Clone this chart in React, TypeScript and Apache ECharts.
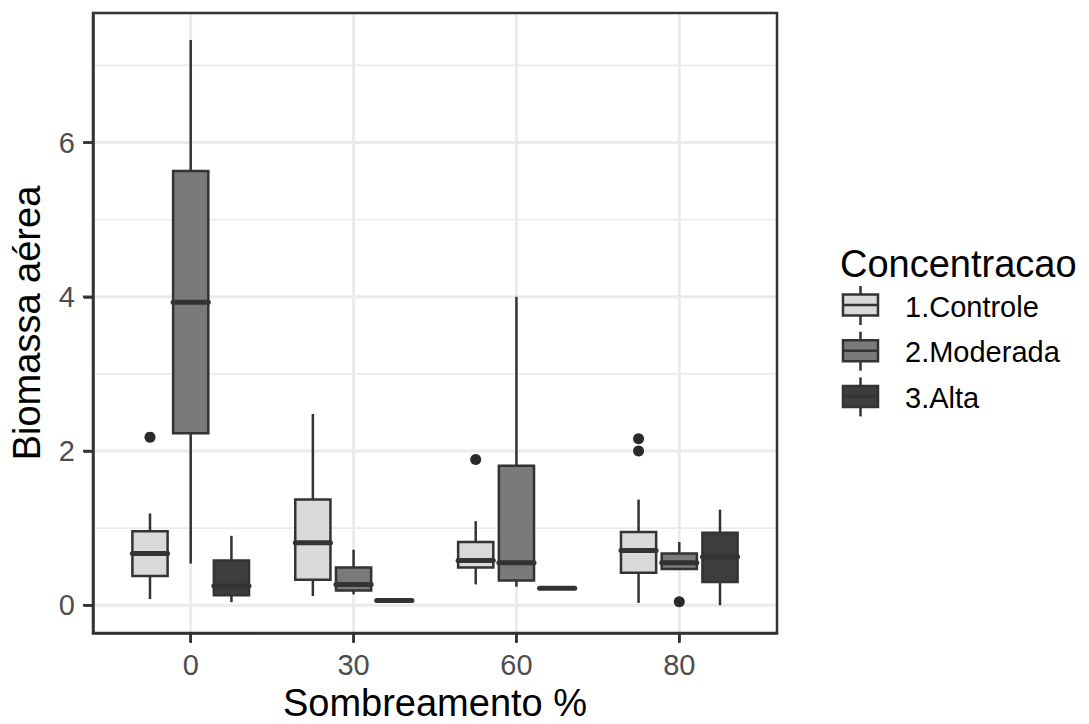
import React, { useEffect, useRef } from "react";
import * as echarts from "echarts";

// ---- data ----
const categories = ["0", "30", "60", "80"];
const groups = ["1.Controle", "2.Moderada", "3.Alta"];
const groupColors = ["#D9D9D9", "#7A7A7A", "#3D3D3D"];

// [min, q1, median, q3, max] per category
const controleStats = [
  [0.08, 0.38, 0.67, 0.96, 1.19],
  [0.12, 0.33, 0.81, 1.37, 2.48],
  [0.27, 0.49, 0.58, 0.82, 1.09],
  [0.03, 0.42, 0.71, 0.95, 1.37],
];
const moderadaStats = [
  [0.54, 2.23, 3.93, 5.63, 7.33],
  [0.14, 0.19, 0.27, 0.49, 0.72],
  [0.24, 0.32, 0.55, 1.81, 4.0],
  [0.46, 0.47, 0.55, 0.67, 0.82],
];
const altaStats = [
  [0.04, 0.13, 0.25, 0.58, 0.9],
  [0.05, 0.055, 0.06, 0.065, 0.07],
  [0.21, 0.215, 0.22, 0.225, 0.23],
  [0.0, 0.3, 0.63, 0.94, 1.24],
];
// [category index, value]
const controleOutliers = [
  [0, 2.18],
  [2, 1.89],
  [3, 2.16],
  [3, 2.0],
];
const moderadaOutliers = [[3, 0.045]];
const altaOutliers: number[][] = [];

const yMajor = [0, 2, 4, 6];
const yMinor = [1, 3, 5, 7];
const X_MIN = -0.6;
const X_MAX = 3.6;
const Y_MIN = -0.36;
const Y_MAX = 7.68;

const FONT = "'Liberation Sans', Arial, sans-serif";

export default function App() {
  const ref = useRef<HTMLDivElement>(null);
  useEffect(() => {
    if (!ref.current) return;
    const chart = echarts.init(ref.current, undefined, { renderer: "svg" });
    const allStats = [controleStats, moderadaStats, altaStats];
    const allOut = [controleOutliers, moderadaOutliers, altaOutliers];
    const dodge = 0.25;
    const halfW = 0.108;

    const boxData: number[][] = [];
    allStats.forEach((stats, gi) => {
      stats.forEach((s, ci) => {
        boxData.push([ci + (gi - 1) * dodge, ...s, gi]);
      });
    });
    const outData: number[][] = [];
    allOut.forEach((arr, gi) => {
      arr.forEach(([ci, v]) => outData.push([ci + (gi - 1) * dodge, v]));
    });

    // gridlines: [xPos, yPos, kind(0 vertical, 1 horizontal), width]
    const gridData: number[][] = [];
    categories.forEach((_, i) => gridData.push([i, 0, 0, 3]));
    yMajor.forEach((v) => gridData.push([0, v, 1, 3]));
    yMinor.forEach((v) => gridData.push([0, v, 1, 1.7]));

    const xTickData = categories.map((_, i) => [i, Y_MIN]);
    const yTickData = yMajor.map((v) => [X_MIN, v]);

    const legendGraphics: any[] = [
      {
        type: "text",
        left: 840,
        top: 245,
        style: {
          text: "Concentracao",
          fontSize: 38,
          fontFamily: FONT,
          fill: "#000",
          verticalAlign: "middle",
        },
        z: 100,
      },
    ];
    groups.forEach((g, i) => {
      const cy = 305 + 45.7 * i;
      legendGraphics.push({
        type: "line",
        shape: { x1: 860.5, y1: cy - 19, x2: 860.5, y2: cy + 20 },
        style: { stroke: "#333333", lineWidth: 2.5 },
        z: 100,
      });
      legendGraphics.push({
        type: "rect",
        shape: { x: 843, y: cy - 10.5, width: 35, height: 21 },
        style: { fill: groupColors[i], stroke: "#333333", lineWidth: 2.5 },
        z: 101,
      });
      legendGraphics.push({
        type: "line",
        shape: { x1: 843, y1: cy, x2: 878, y2: cy },
        style: { stroke: "#333333", lineWidth: 2.5 },
        z: 102,
      });
      legendGraphics.push({
        type: "text",
        x: 905,
        y: cy + 1.5,
        style: {
          text: g,
          fontSize: 29,
          fontFamily: FONT,
          fill: "#000",
          verticalAlign: "middle",
          align: "left",
        },
        z: 100,
      });
    });
    // panel border on top
    legendGraphics.push({
      type: "rect",
      shape: { x: 93, y: 13, width: 684, height: 620 },
      style: { fill: "none", stroke: "#333333", lineWidth: 2.5 },
      z: 200,
      silent: true,
    });

    const axisLineStyle = { show: true, onZero: false, lineStyle: { color: "#333333", width: 2.5 } };

    const option: any = {
      animation: false,
      backgroundColor: "#ffffff",
      grid: {
        left: 93,
        right: 312,
        top: 13,
        bottom: 91,
        containLabel: false,
        outerBoundsMode: "none",
      },
      xAxis: {
        type: "value",
        position: "bottom",
        min: X_MIN,
        max: X_MAX,
        name: "Sombreamento %",
        nameLocation: "middle",
        nameGap: 50,
        nameTextStyle: { fontSize: 38, fontFamily: FONT, color: "#000" },
        axisLine: axisLineStyle,
        splitLine: { show: false },
        axisTick: {
          show: true,
          inside: false,
          length: 9,
          lineStyle: { color: "#333333", width: 2.5 },
          customValues: [0, 1, 2, 3],
        },
        axisLabel: {
          customValues: [0, 1, 2, 3],
          formatter: (v: number) => categories[Math.round(v)] ?? "",
          fontSize: 29,
          fontFamily: FONT,
          color: "#4D4D4D",
          margin: 17,
        },
      },
      yAxis: {
        type: "value",
        position: "left",
        min: Y_MIN,
        max: Y_MAX,
        name: "Biomassa aérea",
        nameLocation: "middle",
        nameGap: 47,
        nameTextStyle: { fontSize: 38, fontFamily: FONT, color: "#000" },
        axisLine: axisLineStyle,
        splitLine: { show: false },
        axisTick: {
          show: true,
          inside: false,
          length: 9,
          lineStyle: { color: "#333333", width: 2.5 },
          customValues: yMajor,
        },
        axisLabel: {
          customValues: yMajor,
          fontSize: 29,
          fontFamily: FONT,
          color: "#4D4D4D",
          margin: 18,
        },
      },
      graphic: legendGraphics,
      series: [
        {
          type: "custom",
          z: 0,
          silent: true,
          data: gridData,
          encode: { x: 0, y: 1 },
          renderItem: (params: any, api: any) => {
            const cs = params.coordSys;
            const kind = api.value(2);
            const w = api.value(3);
            const p = api.coord([api.value(0), api.value(1)]);
            const shape =
              kind === 0
                ? { x1: p[0], y1: cs.y, x2: p[0], y2: cs.y + cs.height }
                : { x1: cs.x, y1: p[1], x2: cs.x + cs.width, y2: p[1] };
            return {
              type: "line",
              shape,
              style: { stroke: "#EBEBEB", lineWidth: w },
            };
          },
        },
        {
          type: "scatter",
          z: 5,
          silent: true,
          clip: false,
          data: xTickData,
          symbol: "rect",
          symbolSize: [2.5, 9],
          symbolOffset: [0, 5.5],
          itemStyle: { color: "#333333", opacity: 1 },
        },
        {
          type: "scatter",
          z: 5,
          silent: true,
          clip: false,
          data: yTickData,
          symbol: "rect",
          symbolSize: [9, 2.5],
          symbolOffset: [-5.5, 0],
          itemStyle: { color: "#333333", opacity: 1 },
        },
        {
          type: "custom",
          z: 2,
          data: boxData,
          encode: { x: 0, y: [1, 2, 3, 4, 5] },
          renderItem: (params: any, api: any) => {
            const x = api.value(0);
            const mn = api.value(1);
            const q1 = api.value(2);
            const md = api.value(3);
            const q3 = api.value(4);
            const mx = api.value(5);
            const gi = api.value(6);
            const pMin = api.coord([x, mn]);
            const pQ1 = api.coord([x, q1]);
            const pMd = api.coord([x, md]);
            const pQ3 = api.coord([x, q3]);
            const pMax = api.coord([x, mx]);
            const hw = api.coord([x + halfW, md])[0] - pMd[0];
            const cx = pMd[0];
            const stroke = "#333333";
            return {
              type: "group",
              children: [
                {
                  type: "line",
                  shape: { x1: cx, y1: pQ3[1], x2: cx, y2: pMax[1] },
                  style: { stroke, lineWidth: 2.5 },
                },
                {
                  type: "line",
                  shape: { x1: cx, y1: pQ1[1], x2: cx, y2: pMin[1] },
                  style: { stroke, lineWidth: 2.5 },
                },
                {
                  type: "rect",
                  shape: { x: cx - hw, y: pQ3[1], width: 2 * hw, height: pQ1[1] - pQ3[1] },
                  style: { fill: groupColors[gi], stroke, lineWidth: 2.5 },
                },
                {
                  type: "line",
                  shape: { x1: cx - hw, y1: pMd[1], x2: cx + hw, y2: pMd[1] },
                  style: { stroke, lineWidth: 5, lineCap: "round" },
                },
              ],
            };
          },
        },
        {
          type: "scatter",
          z: 3,
          data: outData,
          symbol: "circle",
          symbolSize: 11,
          itemStyle: { color: "#2A2A2A", opacity: 1 },
        },
      ],
    };
    chart.setOption(option);
    return () => chart.dispose();
  }, []);
  return (
    <div
      ref={ref}
      style={{ position: "fixed", left: 0, top: 0, width: 1089, height: 724, background: "#fff" }}
    />
  );
}
